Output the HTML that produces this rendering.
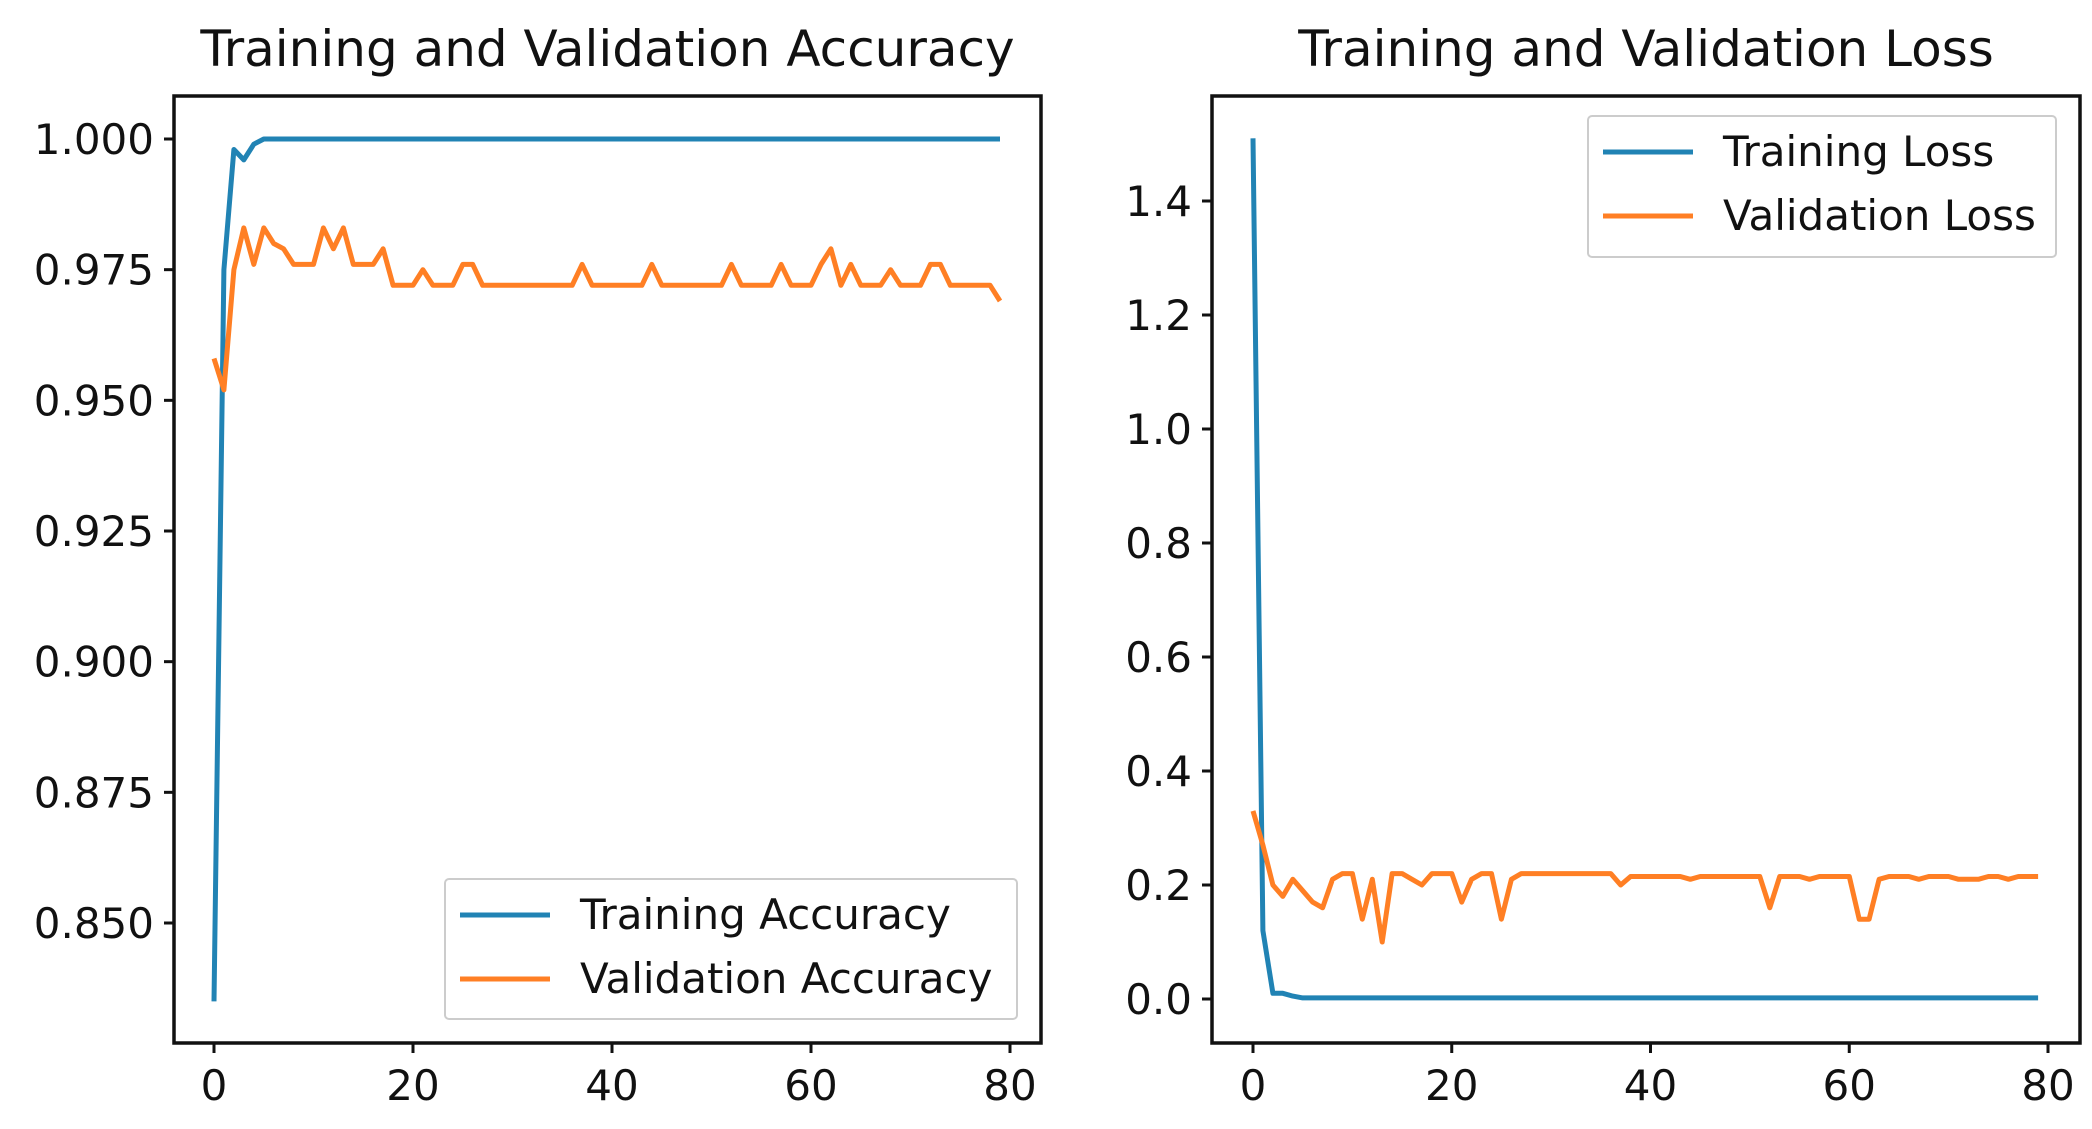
<!DOCTYPE html>
<html><head><meta charset="utf-8"><style>
html,body{margin:0;padding:0;background:#fff;}
svg{display:block;font-family:"DejaVu Sans","Liberation Sans",sans-serif;}
</style></head><body>
<svg id="c" width="2092" height="1129" viewBox="0 0 2092 1129"></svg>
<script>
const epochs = Array.from({length:80},(_,i)=>i);
const trainAcc = [0.835,0.975,0.998,0.996,0.999,1,1,1,1,1,1,1,1,1,1,1,1,1,1,1,1,1,1,1,1,1,1,1,1,1,1,1,1,1,1,1,1,1,1,1,1,1,1,1,1,1,1,1,1,1,1,1,1,1,1,1,1,1,1,1,1,1,1,1,1,1,1,1,1,1,1,1,1,1,1,1,1,1,1,1];
const valAcc = [0.958,0.952,0.975,0.983,0.976,0.983,0.980,0.979,0.976,0.976,0.976,0.983,0.979,0.983,0.976,0.976,0.976,0.979,0.972,0.972,0.972,0.975,0.972,0.972,0.972,0.976,0.976,0.972,0.972,0.972,0.972,0.972,0.972,0.972,0.972,0.972,0.972,0.976,0.972,0.972,0.972,0.972,0.972,0.972,0.976,0.972,0.972,0.972,0.972,0.972,0.972,0.972,0.976,0.972,0.972,0.972,0.972,0.976,0.972,0.972,0.972,0.976,0.979,0.972,0.976,0.972,0.972,0.972,0.975,0.972,0.972,0.972,0.976,0.976,0.972,0.972,0.972,0.972,0.972,0.969];
const trainLoss = [1.51,0.12,0.01,0.01,0.005,0.002,0.002,0.002,0.002,0.002,0.002,0.002,0.002,0.002,0.002,0.002,0.002,0.002,0.002,0.002,0.002,0.002,0.002,0.002,0.002,0.002,0.002,0.002,0.002,0.002,0.002,0.002,0.002,0.002,0.002,0.002,0.002,0.002,0.002,0.002,0.002,0.002,0.002,0.002,0.002,0.002,0.002,0.002,0.002,0.002,0.002,0.002,0.002,0.002,0.002,0.002,0.002,0.002,0.002,0.002,0.002,0.002,0.002,0.002,0.002,0.002,0.002,0.002,0.002,0.002,0.002,0.002,0.002,0.002,0.002,0.002,0.002,0.002,0.002,0.002];
const valLoss = [0.33,0.27,0.20,0.18,0.21,0.19,0.17,0.16,0.21,0.22,0.22,0.14,0.21,0.10,0.22,0.22,0.21,0.20,0.22,0.22,0.22,0.17,0.21,0.22,0.22,0.14,0.21,0.22,0.22,0.22,0.22,0.22,0.22,0.22,0.22,0.22,0.22,0.20,0.215,0.215,0.215,0.215,0.215,0.215,0.21,0.215,0.215,0.215,0.215,0.215,0.215,0.215,0.16,0.215,0.215,0.215,0.21,0.215,0.215,0.215,0.215,0.14,0.14,0.21,0.215,0.215,0.215,0.21,0.215,0.215,0.215,0.21,0.21,0.21,0.215,0.215,0.21,0.215,0.215,0.215];
const xTicks = [0,20,40,60,80];
const accTicks = [0.850,0.875,0.900,0.925,0.950,0.975,1.000];
const lossTicks = [0.0,0.2,0.4,0.6,0.8,1.0,1.2,1.4];

const svg = document.getElementById('c');
const NS = 'http://www.w3.org/2000/svg';
function mk(tag, attrs, parent){const e=document.createElementNS(NS,tag);for(const k in attrs)e.setAttribute(k,attrs[k]);(parent||svg).appendChild(e);return e;}

function panel(cfg){
  const g = mk('g',{});
  
  
  const sx = v => cfg.x0px + (v - 0) * (cfg.x80px - cfg.x0px) / 80;
  const sy = v => cfg.ya + (v - cfg.va) * (cfg.yb - cfg.ya) / (cfg.vb - cfg.va);
  const t = mk('text',{x:(cfg.L+cfg.R)/2,y:66,'text-anchor':'middle','font-size':cfg.titleSize,fill:'#111'},g);
  t.textContent = cfg.title;
  
  
  for(const s of cfg.series){
    const p = mk('path',{d:s.data.map((v,i)=>(i?'L':'M')+sx(epochs[i]).toFixed(1)+','+sy(v).toFixed(1)).join(''),fill:'none',stroke:s.color,'stroke-width':5,'stroke-linejoin':'round'},g);
    
    
  }
  const f = mk('rect',{x:cfg.L,y:cfg.T,width:cfg.R-cfg.L,height:cfg.B-cfg.T,fill:'none',stroke:'#111','stroke-width':3.5},g);
  
  
  for(const v of xTicks){
    const x=sx(v);
    mk('line',{x1:x,x2:x,y1:cfg.B,y2:cfg.B+10,stroke:'#111','stroke-width':3},g);
    const tl = mk('text',{x:x,y:cfg.B+57,'text-anchor':'middle','font-size':42,fill:'#111'},g);
    tl.textContent = v;
    
    
  }
  for(const v of cfg.yTicks){
    const y=sy(v);
    mk('line',{x1:cfg.L-10,x2:cfg.L,y1:y,y2:y,stroke:'#111','stroke-width':3},g);
    const tl = mk('text',{x:cfg.L-20,y:y+15,'text-anchor':'end','font-size':42,fill:'#111'},g);
    tl.textContent = v.toFixed(cfg.dec);
    
    
  }
  const lg = mk('g',{},g);
  
  
  const [lx,ly,lw,lh] = cfg.legend;
  mk('rect',{x:lx,y:ly,width:lw,height:lh,fill:'#fff',stroke:'#ccc','stroke-width':2,rx:4},lg);
  cfg.series.forEach((s,i)=>{
    const yy = ly+36+i*64;
    mk('line',{x1:lx+15,x2:lx+105,y1:yy,y2:yy,stroke:s.color,'stroke-width':5},lg);
    const lt = mk('text',{x:lx+135,y:yy+14,'font-size':42,fill:'#111'},lg);
    lt.textContent = s.label;
    
    
  });
}

panel({name:'accuracy-panel',title:'Training and Validation Accuracy',titleSize:50,L:174,R:1041,T:96,B:1043,
  x0px:214,x80px:1010,va:1.0,ya:139,vb:0.85,yb:923,yTicks:accTicks,dec:3,
  legend:[445,879,572,140],
  series:[{key:'training-accuracy-line',label:'Training Accuracy',color:'#2183b4',data:trainAcc},
          {key:'validation-accuracy-line',label:'Validation Accuracy',color:'#ff7f24',data:valAcc}]});
panel({name:'loss-panel',title:'Training and Validation Loss',titleSize:50,L:1212,R:2080,T:96,B:1043,
  x0px:1253,x80px:2048,va:0,ya:999,vb:1.4,yb:201,yTicks:lossTicks,dec:1,
  legend:[1588,116,468,141],
  series:[{key:'training-loss-line',label:'Training Loss',color:'#2183b4',data:trainLoss},
          {key:'validation-loss-line',label:'Validation Loss',color:'#ff7f24',data:valLoss}]});
</script>
</body></html>
